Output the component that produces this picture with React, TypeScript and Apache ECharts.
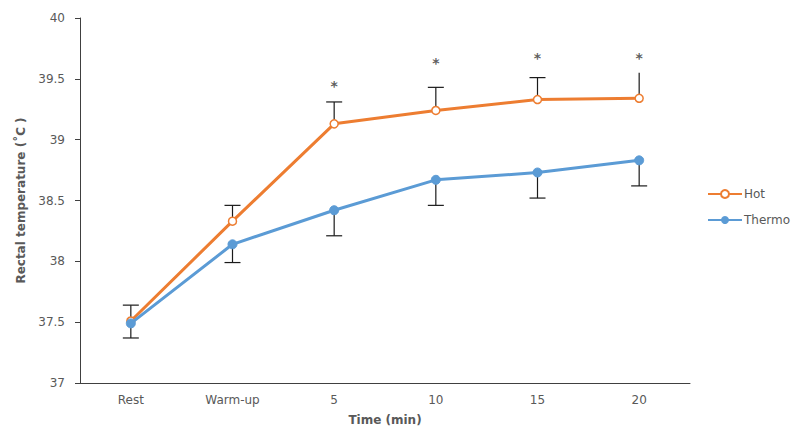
import React, { useEffect, useRef } from "react";
import * as echarts from "echarts";

const categories = ["Rest", "Warm-up", "5", "10", "15", "20"];
const hotValues = [37.51, 38.33, 39.13, 39.24, 39.33, 39.34];
const thermoValues = [37.49, 38.14, 38.42, 38.67, 38.73, 38.83];
const hotUpper = [37.64, 38.46, 39.31, 39.43, 39.51, 39.55];
const hotCap = [true, true, true, true, true, false];
const thermoLower = [37.37, 37.99, 38.21, 38.46, 38.52, 38.62];
const starValues = [null, null, 39.44, 39.63, 39.67, 39.67];
const yTicks = [37, 37.5, 38, 38.5, 39, 39.5, 40];

const ORANGE = "#ED7D31";
const BLUE = "#5B9BD5";
const FONT = "DejaVu Sans";

export default function App() {
  const ref = useRef<HTMLDivElement>(null);
  useEffect(() => {
    document.body.style.margin = "0";
    if (!ref.current) return;
    const chart = echarts.init(ref.current, undefined, { renderer: "svg" });
    const errData: any[] = [];
    categories.forEach((c, i) => {
      errData.push([i, hotValues[i], hotUpper[i], hotCap[i] ? 1 : 0]);
      errData.push([i, thermoValues[i], thermoLower[i], 1]);
    });
    const option: any = {
      animation: false,
      textStyle: { fontFamily: FONT },
      grid: { left: 80, right: 104, top: 18, bottom: 50, containLabel: false },
      legend: {
        orient: "vertical",
        left: 702,
        top: 183,
        itemWidth: 34,
        itemHeight: 10,
        itemGap: 14,
        textStyle: { fontSize: 12, color: "#595959", fontFamily: FONT, padding: [0, 0, 0, -3] },
        data: ["Hot", "Thermo"],
      },
      xAxis: {
        type: "category",
        data: categories,
        boundaryGap: true,
        name: "Time (min)",
        nameLocation: "middle",
        nameGap: 31,
        nameTextStyle: { fontWeight: "bold", fontSize: 12, color: "#595959", fontFamily: FONT },
        axisLine: { lineStyle: { color: "#404040", width: 1 } },
        axisTick: { alignWithLabel: true, length: 5, lineStyle: { color: "#404040" } },
        axisLabel: { fontSize: 12, color: "#595959", margin: 11, fontFamily: FONT },
      },
      yAxis: {
        type: "value",
        min: 37,
        max: 40,
        interval: 0.5,
        name: "Rectal temperature (˚C )",
        nameLocation: "middle",
        nameGap: 52,
        nameRotate: 90,
        nameTextStyle: { fontWeight: "bold", fontSize: 12, color: "#595959", fontFamily: FONT },
        axisLine: { show: true, lineStyle: { color: "#404040", width: 1 } },
        axisTick: { show: true, length: 5, lineStyle: { color: "#404040" } },
        splitLine: { show: false },
        axisLabel: {
          fontSize: 12,
          color: "#595959",
          margin: 15,
          fontFamily: FONT,
          formatter: (v: number) => (yTicks.includes(v) ? String(v) : ""),
        },
      },
      series: [
        {
          name: "errbars",
          type: "custom",
          z: 1,
          data: errData,
          renderItem: (params: any, api: any) => {
            const x = api.coord([api.value(0), api.value(1)]);
            const e = api.coord([api.value(0), api.value(2)]);
            const cap = api.value(3);
            const hw = 8;
            const style = { stroke: "#1a1a1a", lineWidth: 1.2 };
            const children: any[] = [
              { type: "line", shape: { x1: x[0], y1: x[1], x2: e[0], y2: e[1] }, style },
            ];
            if (cap) {
              children.push({
                type: "line",
                shape: { x1: e[0] - hw, y1: e[1], x2: e[0] + hw, y2: e[1] },
                style,
              });
            }
            return { type: "group", children };
          },
        },
        {
          name: "Hot",
          type: "line",
          data: hotValues,
          z: 3,
          symbol: "circle",
          symbolSize: 8,
          showAllSymbol: true,
          lineStyle: { color: ORANGE, width: 3 },
          itemStyle: { color: "#ffffff", borderColor: ORANGE, borderWidth: 1.5 },
        },
        {
          name: "Thermo",
          type: "line",
          data: thermoValues,
          z: 4,
          symbol: "circle",
          symbolSize: 9,
          showAllSymbol: true,
          lineStyle: { color: BLUE, width: 3 },
          itemStyle: { color: BLUE, borderColor: BLUE },
        },
        {
          name: "stars",
          type: "scatter",
          data: starValues,
          symbolSize: 0,
          symbol: "circle",
          itemStyle: { color: "transparent" },
          label: {
            show: true,
            position: "inside",
            formatter: "*",
            fontSize: 14,
            fontWeight: "bold",
            color: "#333333",
            fontFamily: FONT,
          },
          z: 5,
        },
      ],
    };
    chart.setOption(option);
    return () => chart.dispose();
  }, []);
  return <div ref={ref} style={{ width: 794, height: 433 }} />;
}
